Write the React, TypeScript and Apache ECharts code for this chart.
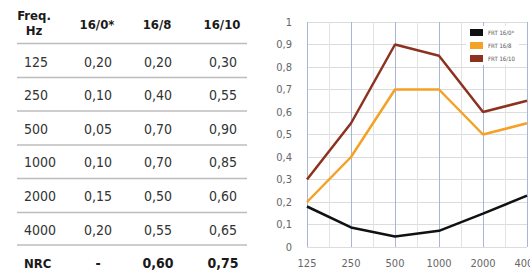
import React, { useEffect, useRef } from "react";
import * as echarts from "echarts";

const freqs = ["125", "250", "500", "1000", "2000", "4000"];
const colHeaders = ["16/0*", "16/8", "16/10"];
const table160 = ["0,20", "0,10", "0,05", "0,10", "0,15", "0,20"];
const table168 = ["0,20", "0,40", "0,70", "0,70", "0,50", "0,55"];
const table1610 = ["0,30", "0,55", "0,90", "0,85", "0,60", "0,65"];
const nrcRow = ["-", "0,60", "0,75"];

const seriesNames = ["FRT 16/0*", "FRT 16/8", "FRT 16/10"];
const line160 = [0.18, 0.087, 0.047, 0.072, 0.148, 0.228];
const line168 = [0.2, 0.4, 0.7, 0.7, 0.5, 0.55];
const line1610 = [0.3, 0.55, 0.9, 0.85, 0.6, 0.65];
const seriesColors = ["#111111", "#f4a125", "#8e3220"];

const FONT = "'Liberation Sans Narrow', 'DejaVu Sans Condensed', Roboto, sans-serif";

export default function App() {
  const ref = useRef<HTMLDivElement>(null);
  useEffect(() => {
    const chart = echarts.init(ref.current!, null, { renderer: "svg" });

    const rowY = [61.5, 95, 128.5, 162, 196, 230];
    const nrcY = 263;
    const sepY = [43.5, 77.5, 111, 145, 178.5, 212.5, 245];
    const colX = [98, 158, 223];
    const graphics: any[] = [];
    graphics.push({
      type: "text", x: 34, y: 15,
      style: { text: "Freq.", font: `bold 13px ${FONT}`, fill: "#1a1a1a", align: "center", verticalAlign: "middle" },
    });
    graphics.push({
      type: "text", x: 34, y: 30,
      style: { text: "Hz", font: `bold 13px ${FONT}`, fill: "#1a1a1a", align: "center", verticalAlign: "middle" },
    });
    colHeaders.forEach((h, i) => {
      graphics.push({
        type: "text", x: colX[i] - 1, y: 24,
        style: { text: h, font: `bold 13px ${FONT}`, fill: "#1a1a1a", align: "center", verticalAlign: "middle" },
      });
    });
    sepY.forEach((y) => {
      graphics.push({
        type: "line", shape: { x1: 17, y1: y, x2: 247, y2: y },
        style: { stroke: "#bdbdbd", lineWidth: 1.5 },
      });
    });
    const cols = [table160, table168, table1610];
    freqs.forEach((f, r) => {
      graphics.push({
        type: "text", x: 24, y: rowY[r],
        style: { text: f, font: `14px ${FONT}`, fill: "#333", align: "left", verticalAlign: "middle" },
      });
      cols.forEach((c, i) => {
        graphics.push({
          type: "text", x: colX[i], y: rowY[r],
          style: { text: c[r], font: `14px ${FONT}`, fill: "#333", align: "center", verticalAlign: "middle" },
        });
      });
    });
    graphics.push({
      type: "text", x: 24, y: nrcY,
      style: { text: "NRC", font: `bold 13px ${FONT}`, fill: "#1a1a1a", align: "left", verticalAlign: "middle" },
    });
    nrcRow.forEach((v, i) => {
      graphics.push({
        type: "text", x: colX[i], y: nrcY,
        style: { text: v, font: `bold 14px ${FONT}`, fill: "#1a1a1a", align: "center", verticalAlign: "middle" },
      });
    });

    const lines = [line160, line168, line1610];
    chart.setOption({
      animation: false,
      backgroundColor: "#ffffff",
      graphic: graphics,
      grid: { left: 307, top: 22, width: 220, height: 225, containLabel: false, outerBoundsMode: "none" },
      legend: {
        left: 466, top: 26, orient: "vertical",
        backgroundColor: "#ffffff",
        padding: [3, 4, 3, 4],
        itemWidth: 13, itemHeight: 7, itemGap: 6,
        icon: "rect",
        textStyle: { fontSize: 6, color: "#555", fontFamily: FONT, padding: [0, 0, 0, 0] },
        data: seriesNames,
      },
      xAxis: {
        type: "value", min: 0, max: 5, interval: 1,
        axisLine: { show: false }, axisTick: { show: false },
        axisLabel: {
          color: "#666", fontSize: 11, fontFamily: FONT, margin: 11,
          formatter: (v: number) => freqs[Math.round(v)] ?? "",
        },
        splitLine: { show: true, lineStyle: { color: "#a7b6d6", width: 1 } },
        minorTick: { show: false, splitNumber: 2 },
        minorSplitLine: { show: true, lineStyle: { color: "#e3e3e3", width: 1 } },
      },
      yAxis: {
        type: "value", min: 0, max: 1, interval: 0.1,
        axisLine: { show: false }, axisTick: { show: false },
        axisLabel: {
          color: "#666", fontSize: 11, fontFamily: FONT, margin: 15,
          formatter: (v: number) => String(Math.round(v * 10) / 10).replace(".", ","),
        },
        splitLine: { show: true, lineStyle: { color: "#dcdcdc", width: 1 } },
      },
      series: lines.map((d, i) => ({
        type: "line",
        name: seriesNames[i],
        data: d.map((v, j) => [j, v]),
        showSymbol: false,
        symbol: "none",
        lineStyle: { color: seriesColors[i], width: 2.5 },
        itemStyle: { color: seriesColors[i] },
        z: 3 + i,
      })),
    });
    return () => chart.dispose();
  }, []);
  return (
    <div
      ref={ref}
      style={{ position: "absolute", left: 0, top: 0, width: 530, height: 275 }}
    />
  );
}
